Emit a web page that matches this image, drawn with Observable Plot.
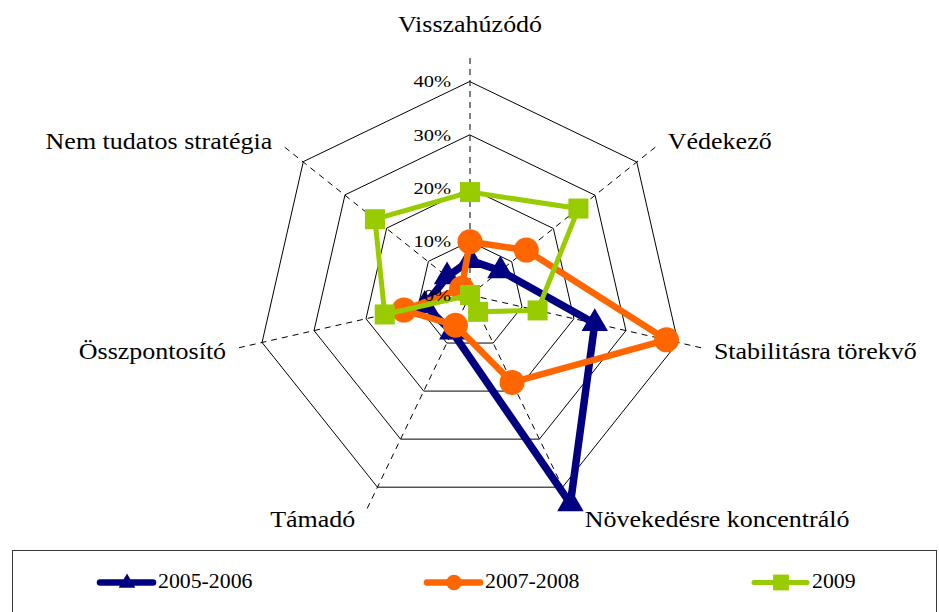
<!DOCTYPE html>
<html><head><meta charset="utf-8">
<script src="https://cdn.jsdelivr.net/npm/d3@7"></script>
<script src="https://cdn.jsdelivr.net/npm/@observablehq/plot@0.6"></script>
<style>
html,body{margin:0;padding:0;background:#fff;}
#wrap{position:relative;width:939px;height:612px;overflow:hidden;background:#fff;font-family:"Liberation Serif","Times New Roman",serif;}
#legend{position:absolute;left:12px;top:550px;width:923px;height:80px;border:1px solid #3a3a3a;box-sizing:content-box;}
.item{position:absolute;top:0;height:62px;}
.item svg{position:absolute;left:0;top:0;overflow:visible;}
.item span{position:absolute;top:18px;font-size:20px;line-height:24px;color:#000;white-space:nowrap;display:inline-block;transform:scaleX(1.09);transform-origin:0 50%;}
</style></head><body><div id="wrap"></div>
<script>
// ---- data ----
const categories = ["Visszahúzódó","Védekező","Stabilitásra törekvő","Növekedésre koncentráló","Támadó","Összpontosító","Nem tudatos stratégia"];
const seriesNames = ["2005-2006","2007-2008","2009"];
const values2005_2006 = [0.065,0.073,0.24,0.434,0.077,0.087,0.055];
const values2007_2008 = [0.10,0.135,0.378,0.182,0.063,0.127,0.02];
const values2009 = [0.193,0.26,0.13,0.035,0.0,0.164,0.228];
const ringLevels = [0.1,0.2,0.3,0.4];
const tickValues = [0,0.1,0.2,0.3,0.4];
const tickLabels = ["0%","10%","20%","30%","40%"];

// ---- styles ----
const colors = ["#000080","#FF6600","#99CC00"];
const symbols = ["triangle","circle","square"];
const lineWidths = [7.5,6.5,5];
const markerR = [9.8,12.5,11.3];
const spokeEnd = 0.448;

const n = categories.length;
const ang = i => i * 2 * Math.PI / n;
const pt = (i, r) => ({x: r * Math.sin(ang(i)), y: r * Math.cos(ang(i))});

const rings = ringLevels.flatMap(l => categories.map((c, i) => ({level: l, ...pt(i, l)})));
const spokes = categories.map((c, i) => { const p = pt(i, spokeEnd); return {x1: 0, y1: 0, x2: p.x, y2: p.y}; });
const seriesValues = [values2005_2006, values2007_2008, values2009];
const seriesPts = seriesValues.map((vals, s) => vals.map((v, i) => ({series: seriesNames[s], cat: categories[i], ...pt(i, v)})));
const ticks = tickValues.map((v, k) => ({x: 0, y: v, label: tickLabels[k]}));
const catLabels = categories.map((c, i) => {
  const s = Math.sin(ang(i)), co = Math.cos(ang(i));
  const p = pt(i, spokeEnd);
  const side = Math.abs(s) < 0.1 ? 0 : Math.sign(s);
  return {label: c, x: p.x, y: p.y,
    anchor: side === 0 ? "middle" : side > 0 ? "start" : "end",
    dx: side * 11, dy: side === 0 ? -31 : 1 - 9.5 * co};
});

const W = 939, H = 550;
const k = 533.25; // px per unit (only to derive domains from the frame)
const cx = 469.5, cy = 294.5;

const seriesMarks = seriesPts.flatMap((pts, s) => [
  Plot.line(pts, {x: "x", y: "y", stroke: colors[s], strokeWidth: lineWidths[s], curve: "linear-closed", strokeLinejoin: "round"}),
  Plot.dot(pts, {x: "x", y: "y", symbol: symbols[s], r: markerR[s], fill: colors[s], stroke: "none"})
]);

const chart = Plot.plot({
  width: W, height: H, margin: 0,
  x: {domain: [-cx / k, (W - cx) / k], axis: null},
  y: {domain: [-(H - cy) / k, cy / k], axis: null},
  style: {fontFamily: "Liberation Serif, Times New Roman, serif", background: "#fff", color: "#000"},
  marks: [
    Plot.link(spokes, {x1: "x1", y1: "y1", x2: "x2", y2: "y2", stroke: "#000", strokeWidth: 1, strokeDasharray: "6,5"}),
    Plot.line(rings, {x: "x", y: "y", z: "level", stroke: "#000", strokeWidth: 1, curve: "linear-closed"}),
    ...seriesMarks,
    Plot.text(ticks, {x: "x", y: "y", text: "label", textAnchor: "end", dx: -19, fontSize: 17.5, fill: "#000"}),
    ...catLabels.map(d => Plot.text([d], {x: "x", y: "y", text: "label", textAnchor: d.anchor, dx: d.dx, dy: d.dy, fontSize: 23, fill: "#000"}))
  ]
});

const wrap = document.getElementById("wrap");
wrap.appendChild(chart);

// horizontal stretch of text to match the reference's wide lettering
d3.select(chart).selectAll("text").each(function() {
  const fs = +this.parentNode.getAttribute("font-size");
  const f = fs >= 22 ? 1.13 : 1.17;
  const len = this.getComputedTextLength();
  this.setAttribute("textLength", len * f);
  this.setAttribute("lengthAdjust", "spacingAndGlyphs");
});

// ---- legend ----
const legend = document.createElement("div");
legend.id = "legend";
wrap.appendChild(legend);
const sym = {triangle: d3.symbolTriangle, circle: d3.symbolCircle, square: d3.symbolSquare};
const legendSize = [120, 190, 250];
seriesNames.forEach((name, s) => {
  const item = document.createElement("div");
  item.className = "item";
  item.style.left = (84 + s * 327) + "px";
  item.style.width = "200px";
  const svg = d3.create("svg").attr("width", 62).attr("height", 62);
  svg.append("line").attr("x1", 3).attr("x2", 56).attr("y1", 31.5).attr("y2", 31.5)
    .attr("stroke", colors[s]).attr("stroke-width", s === 2 ? 5 : 6.5).attr("stroke-linecap", "round");
  svg.append("path").attr("d", d3.symbol(sym[symbols[s]], legendSize[s])())
    .attr("transform", `translate(30,${s === 0 ? 32 : 31.5})`).attr("fill", colors[s]);
  item.appendChild(svg.node());
  const sp = document.createElement("span");
  sp.textContent = name;
  sp.style.left = "61px";
  item.appendChild(sp);
  legend.appendChild(item);
});
</script></body></html>
